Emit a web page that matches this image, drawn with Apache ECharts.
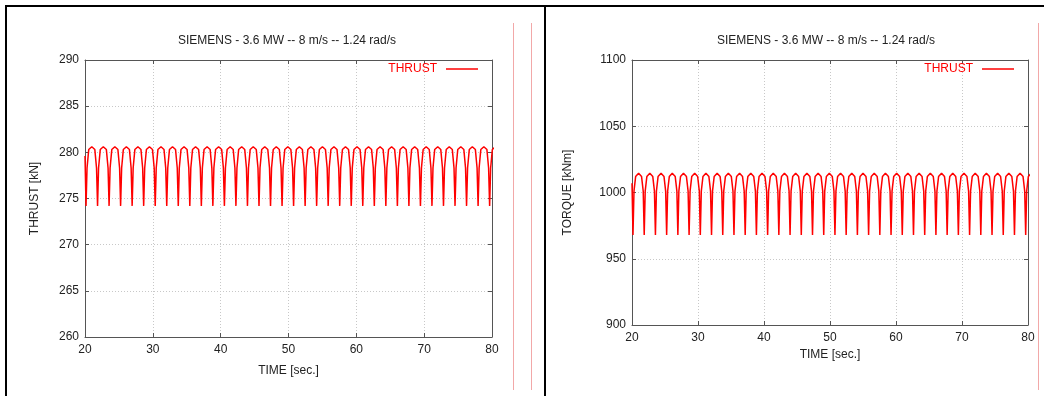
<!DOCTYPE html>
<html>
<head>
<meta charset="utf-8">
<script src="https://cdn.jsdelivr.net/npm/echarts@6/dist/echarts.min.js"></script>
<style>
html,body{margin:0;padding:0;background:#fff;}
#c{width:1044px;height:396px;}
</style>
</head>
<body>
<div id="c"></div>
<script>
// ---- data ----
const titleText = 'SIEMENS - 3.6 MW -- 8 m/s -- 1.24 rad/s';
const legendName = 'THRUST';
// times (s) of the blade-passage dips
const dipTimes = [20.15, 21.85, 23.55, 25.25, 26.95, 28.65, 30.35, 32.05, 33.75, 35.45,
  37.15, 38.85, 40.55, 42.25, 43.95, 45.65, 47.35, 49.05, 50.75, 52.45,
  54.15, 55.85, 57.55, 59.25, 60.95, 62.65, 64.35, 66.05, 67.75, 69.45,
  71.15, 72.85, 74.55, 76.25, 77.95, 79.65];
// time offsets after each dip, and the values read at those offsets
const cycleOffsets = [0, 0.15, 0.4, 0.85, 1.3, 1.55];
const thrustCycle = [274.2, 278.3, 280.3, 280.6, 280.3, 278.3];
const torqueCycle = [968, 1001, 1012, 1014.5, 1012, 1001];
const thrustStart = 279.6;
const torqueStart = 1007;

function buildPoints(start, cycle) {
  const pts = [[20, start]];
  dipTimes.forEach(d => {
    cycleOffsets.forEach((o, i) => pts.push([+(d + o).toFixed(2), cycle[i]]));
  });
  return pts;
}

const thrustData = buildPoints(thrustStart, thrustCycle);
const torqueData = buildPoints(torqueStart, torqueCycle);

const FONT = '"Liberation Sans", Arial, Helvetica, sans-serif';
const TXT = '#222';
const AX = '#555';

function xAxes(gi, nameGap) {
  return [
    {
      gridIndex: gi, type: 'value', min: 20, max: 80, interval: 10,
      name: 'TIME [sec.]', nameLocation: 'middle', nameGap: nameGap,
      nameTextStyle: {color: TXT, fontSize: 12, fontFamily: FONT},
      axisLine: {show: true, lineStyle: {color: AX, width: 1}},
      axisTick: {show: true, inside: true, length: 4, lineStyle: {color: AX}},
      axisLabel: {color: TXT, fontSize: 12, fontFamily: FONT, margin: 7, formatter: v => String(v)},
      splitLine: {show: true, lineStyle: {type: [1, 2], color: '#c8c8c8', width: 1}}
    },
    {
      gridIndex: gi, type: 'value', min: 20, max: 80, interval: 10, position: 'top',
      axisLine: {show: true, lineStyle: {color: AX, width: 1}},
      axisTick: {show: true, inside: true, length: 4, lineStyle: {color: AX}},
      axisLabel: {show: false}, splitLine: {show: false}
    }
  ];
}
function yAxes(gi, min, max, interval, name, nameGap) {
  return [
    {
      gridIndex: gi, type: 'value', min: min, max: max, interval: interval,
      name: name, nameLocation: 'middle', nameGap: nameGap, nameRotate: 90,
      nameTextStyle: {color: TXT, fontSize: 12, fontFamily: FONT},
      axisLine: {show: true, lineStyle: {color: AX, width: 1}},
      axisTick: {show: true, inside: true, length: 4, lineStyle: {color: AX}},
      axisLabel: {color: TXT, fontSize: 12, fontFamily: FONT, margin: 6, formatter: v => String(v)},
      splitLine: {show: true, lineStyle: {type: [1, 2], color: '#c8c8c8', width: 1}}
    },
    {
      gridIndex: gi, type: 'value', min: min, max: max, interval: interval, position: 'right',
      axisLine: {show: true, lineStyle: {color: AX, width: 1}},
      axisTick: {show: true, inside: true, length: 4, lineStyle: {color: AX}},
      axisLabel: {show: false}, splitLine: {show: false}
    }
  ];
}

const legendBase = {data: [legendName], top: 63, padding: 0, align: 'right',
  icon: 'rect', itemWidth: 32, itemHeight: 1.5,
  textStyle: {color: '#ff0000', fontSize: 12, fontFamily: FONT, padding: [0, 4, 0, 0]}};

const chart = echarts.init(document.getElementById('c'), null, {renderer: 'canvas'});
chart.setOption({
  animation: false,
  backgroundColor: '#fff',
  grid: [
    {left: 85, top: 60, width: 407, height: 277},
    {left: 632, top: 60, width: 396, height: 265}
  ],
  xAxis: [...xAxes(0, 28), ...xAxes(1, 22)],
  yAxis: [...yAxes(0, 260, 290, 5, 'THRUST [kN]', 44), ...yAxes(1, 900, 1100, 50, 'TORQUE [kNm]', 58)],
  legend: [
    Object.assign({}, legendBase, {right: 566}),
    Object.assign({}, legendBase, {right: 30})
  ],
  series: [
    {name: legendName, type: 'line', xAxisIndex: 0, yAxisIndex: 0, data: thrustData,
     showSymbol: false, symbol: 'none', clip: true,
     lineStyle: {color: '#ff0000', width: 1.5}, itemStyle: {color: '#ff0000'}},
    {name: legendName, type: 'line', xAxisIndex: 2, yAxisIndex: 2, data: torqueData,
     showSymbol: false, symbol: 'none', clip: true,
     lineStyle: {color: '#ff0000', width: 1.5}, itemStyle: {color: '#ff0000'}}
  ],
  graphic: [
    {type: 'text', x: 287, y: 41, style: {text: titleText, align: 'center', verticalAlign: 'middle',
      textAlign: 'center', textVerticalAlign: 'middle', fill: TXT, fontSize: 12, fontFamily: FONT}},
    {type: 'text', x: 826, y: 41, style: {text: titleText, align: 'center', verticalAlign: 'middle',
      textAlign: 'center', textVerticalAlign: 'middle', fill: TXT, fontSize: 12, fontFamily: FONT}},
    {type: 'rect', shape: {x: 5, y: 5, width: 1039, height: 2}, style: {fill: '#000'}},
    {type: 'rect', shape: {x: 5, y: 5, width: 2, height: 391}, style: {fill: '#000'}},
    {type: 'rect', shape: {x: 544, y: 5, width: 2, height: 391}, style: {fill: '#000'}},
    {type: 'line', shape: {x1: 513.5, y1: 23, x2: 513.5, y2: 390}, style: {stroke: '#f2a8a8', lineWidth: 1}},
    {type: 'line', shape: {x1: 531.5, y1: 23, x2: 531.5, y2: 390}, style: {stroke: '#f2a8a8', lineWidth: 1}},
    {type: 'line', shape: {x1: 1038.5, y1: 23, x2: 1038.5, y2: 390}, style: {stroke: '#f2a8a8', lineWidth: 1}}
  ]
});
</script>
</body>
</html>
